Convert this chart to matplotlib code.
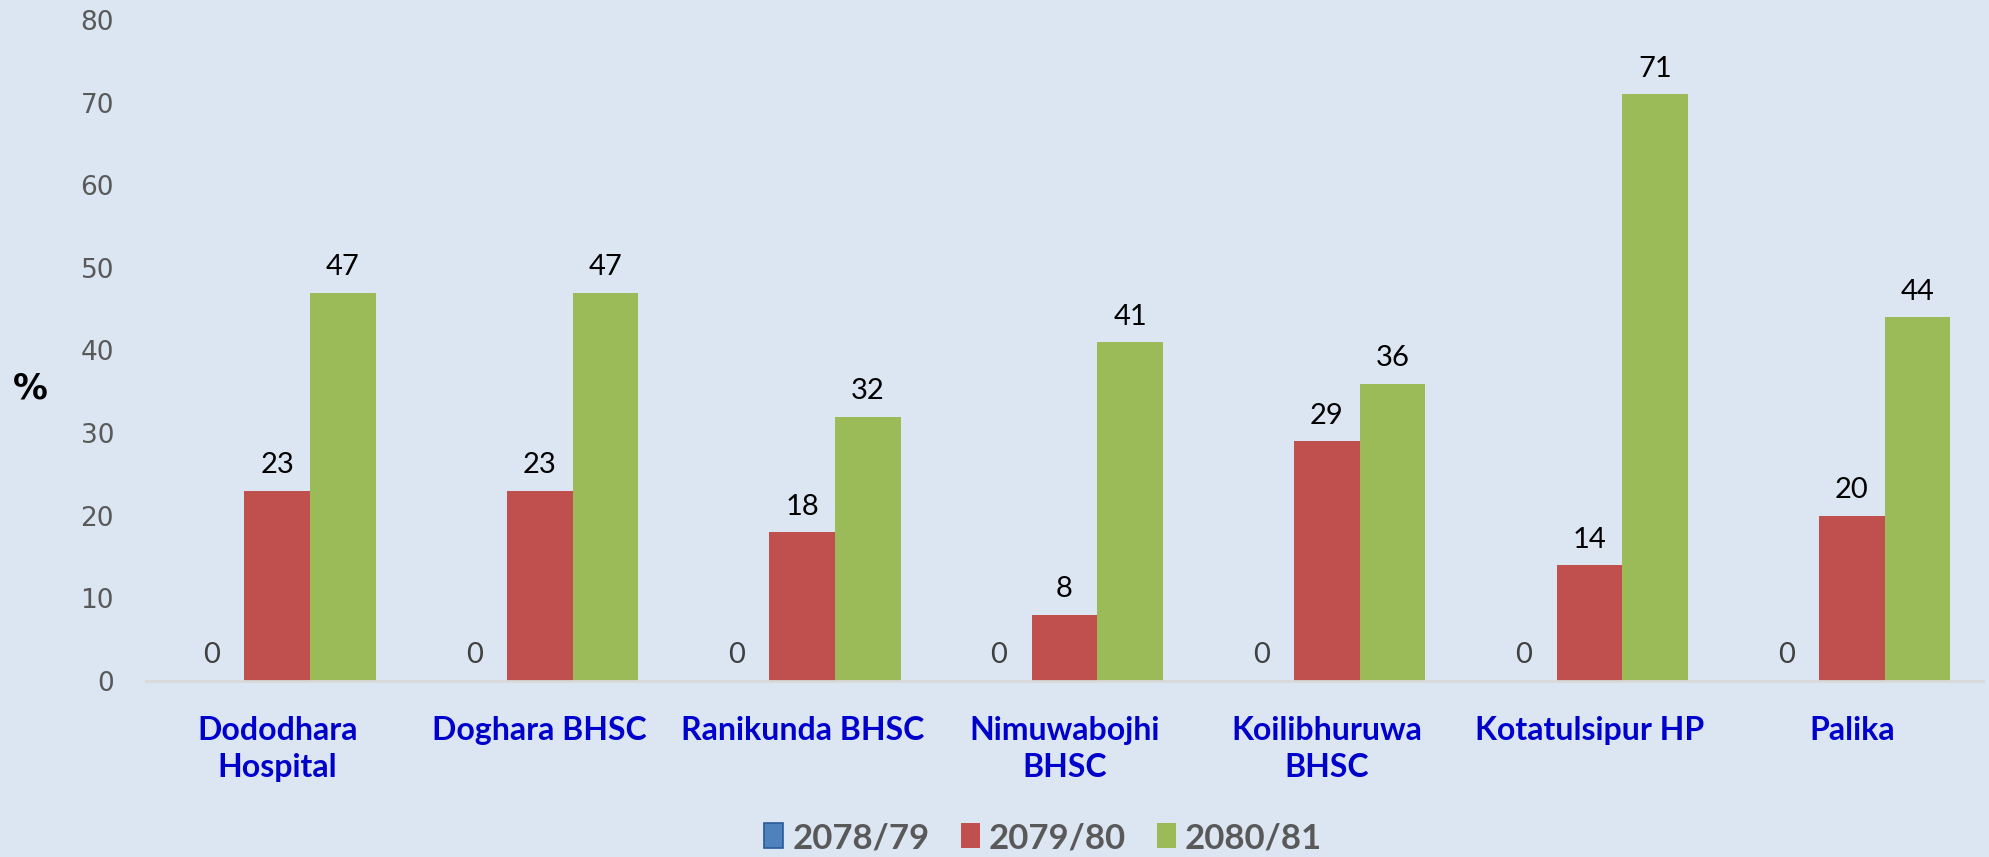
import matplotlib
matplotlib.use("Agg")
import matplotlib.pyplot as plt
import numpy as np
from matplotlib.patches import Patch

# ------------------------------------------------------------------ #
# data                                                                #
# ------------------------------------------------------------------ #
facilities = ["Dododhara\nHospital", "Doghara BHSC", "Ranikunda BHSC",
              "Nimuwabojhi\nBHSC", "Koilibhuruwa\nBHSC", "Kotatulsipur HP", "Palika"]
years = ["2078/79", "2079/80", "2080/81"]
y2078 = [0, 0, 0, 0, 0, 0, 0]
y2079 = [23, 23, 18, 8, 29, 14, 20]
y2080 = [47, 47, 32, 41, 36, 71, 44]
yticks = [0, 10, 20, 30, 40, 50, 60, 70, 80]

BG = "#dce6f2"
colors = ["#4f81bd", "#c0504d", "#9bbb59"]

fig = plt.figure(figsize=(19.9, 8.57), dpi=100, facecolor=BG)
ax = fig.add_axes([0.0734, 0.2054, 0.9231, 0.7713], facecolor=BG)

x = np.arange(len(facilities))
w = 0.25
series = [y2078, y2079, y2080]
for k, (vals, c) in enumerate(zip(series, colors)):
    pos = x + (k - 1) * w
    ax.bar(pos, vals, width=w, color=c, edgecolor="none", zorder=2)
    for px, v in zip(pos, vals):
        ax.annotate(str(v), (px, v), xytext=(0, 9), textcoords="offset points",
                    ha="center", va="bottom", fontsize=21, family="Lato",
                    color="#404040" if v == 0 else "black")

ax.set_xlim(-0.5, len(facilities) - 0.5)
ax.set_ylim(0, 80)
ax.set_yticks(yticks)
ax.tick_params(axis="y", length=0, pad=23, labelsize=19, labelcolor="#595959")
ax.set_xticks(x)
ax.set_xticklabels(facilities, fontsize=23, fontweight="bold", family="Lato",
                   color="#0000cc")
ax.tick_params(axis="x", length=0, pad=25)
for lab in ax.get_xticklabels():
    lab.set_linespacing(1.35)
    lab.set_verticalalignment("top")

for s in ["top", "right", "left"]:
    ax.spines[s].set_visible(False)
ax.spines["bottom"].set_color("#d9d9d9")
ax.spines["bottom"].set_linewidth(2)

fig.text(30 / 1990, 1 - 388 / 857, "%", fontsize=25, fontweight="bold",
         ha="center", va="center", color="black")

handles = [Patch(facecolor=colors[0], edgecolor="#2a5a9a", linewidth=1.2, label=years[0]),
           Patch(facecolor=colors[1], edgecolor="none", label=years[1]),
           Patch(facecolor=colors[2], edgecolor="none", label=years[2])]
leg = fig.legend(handles=handles, loc="center", bbox_to_anchor=(1043 / 1990, 1 - 838 / 857),
                 ncol=3, frameon=False, handlelength=0.55, handleheight=0.72,
                 handletextpad=0.25, columnspacing=0.9,
                 prop={"family": "Lato", "weight": "bold", "size": 25})
for t in leg.get_texts():
    t.set_color("#595959")

fig.savefig("out.png", dpi=100, facecolor=BG)
